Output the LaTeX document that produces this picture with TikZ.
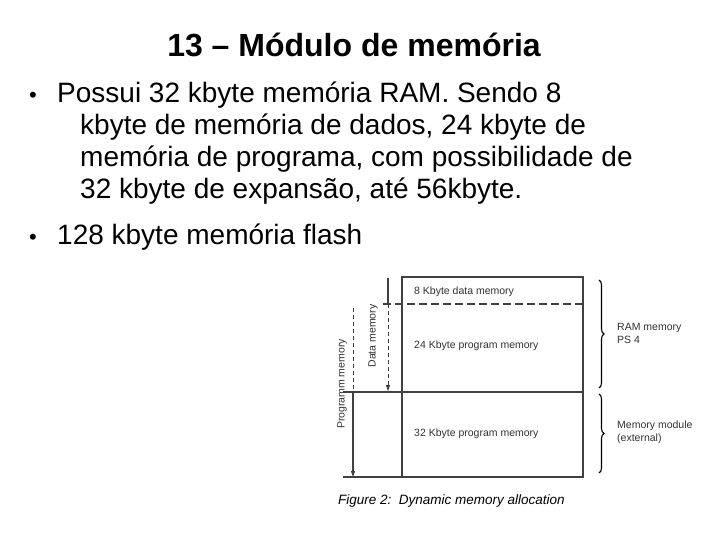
\documentclass[tikz,border=0pt]{standalone}
\usepackage{fontspec}
\setmainfont{Liberation Sans}
\usetikzlibrary{decorations.pathreplacing,arrows.meta}
\begin{document}
\begin{tikzpicture}[x=1pt,y=-1pt,
  bodytext/.style={anchor=base west,inner sep=0pt,font=\fontsize{28}{32}\selectfont},
  bullettext/.style={anchor=base west,inner sep=0pt,font=\fontsize{22}{26}\selectfont},
  dlabel/.style={inner sep=0pt,font=\fontsize{10.5}{13}\selectfont,text=black!80},
  dline/.style={draw=black!75,line width=1.1pt},
  dashline/.style={draw=black!75,line width=1.1pt,dash pattern=on 8pt off 4pt},
  thindash/.style={draw=black!75,line width=0.9pt,dash pattern=on 4pt off 3pt},
  tip/.style={-{Triangle[length=6pt,width=4pt]}},
  bracestyle/.style={draw=black,line width=1.1pt,decorate,decoration={brace,amplitude=5pt}}]
\clip (0,0) rectangle (720,540);
\fill[white] (0,0) rectangle (720,540);
% title
\node[anchor=base,inner sep=0pt,font=\fontsize{32}{36}\selectfont\bfseries] (title) at (354,57) {13 – Módulo de memória};
% bullets
\node[bullettext] (b1) at (29,103) {•};
\node[bodytext] (l1) at (57,103) {Possui 32 kbyte memória RAM. Sendo 8};
\node[bodytext] (l2) at (80,135) {kbyte de memória de dados, 24 kbyte de};
\node[bodytext] (l3) at (80,167) {memória de programa, com possibilidade de};
\node[bodytext] (l4) at (80,199) {32 kbyte de expansão, até 56kbyte.};
\node[bullettext] (b2) at (29,244) {•};
\node[bodytext] (l5) at (57,244) {128 kbyte memória flash};
% diagram coordinates
\coordinate (tl) at (402,277);
\coordinate (br) at (583,477);
\coordinate (dl) at (383,304);
\coordinate (dr) at (583,304);
\coordinate (ml) at (343,392);
\coordinate (mr) at (583,392);
\coordinate (bl) at (343,477);
\coordinate (dtop) at (388,278);
\coordinate (dmid) at (388,304);
\coordinate (dend) at (388,391);
\coordinate (ptop) at (353,308);
\coordinate (pmid) at (353,392);
\coordinate (pend) at (353,477);
% box
\draw[dline] (tl) rectangle (br);
\draw[dashline] (dl) -- (dr);
\draw[dline] (ml) -- (mr);
\draw[dline] (bl) -- (br);
% data memory arrow
\draw[dline] (dtop) -- (dmid);
\draw[thindash,tip] (dmid) -- (dend);
% program memory arrow
\draw[thindash] (ptop) -- (pmid);
\draw[dline,tip] (pmid) -- (pend);
% rotated labels
\node[dlabel,rotate=90] (dmem) at (373,336) {Data memory};
\node[dlabel,rotate=90] (pmem) at (342,384) {Programm memory};
% inner labels
\node[dlabel,anchor=west] (t8) at (414,292) {8 Kbyte data memory};
\node[dlabel,anchor=west] (t24) at (414,346) {24 Kbyte program memory};
\node[dlabel,anchor=west] (t32) at (414,434) {32 Kbyte program memory};
% braces
\coordinate (r1) at (599,280);
\coordinate (r2) at (599,388);
\coordinate (m1) at (599,394);
\coordinate (m2) at (599,473);
\draw[bracestyle] (r1) -- (r2);
\draw[bracestyle] (m1) -- (m2);
\node[dlabel,anchor=west,align=left] (ram) at (617,333) {RAM memory\\PS 4};
\node[dlabel,anchor=west,align=left] (mod) at (617,432) {Memory module\\(external)};
% caption
\node[anchor=west,inner sep=0pt,font=\fontsize{13.5}{16}\selectfont\itshape] (cap) at (338,501) {Figure 2:\ \ Dynamic memory allocation};
\end{tikzpicture}
\end{document}
